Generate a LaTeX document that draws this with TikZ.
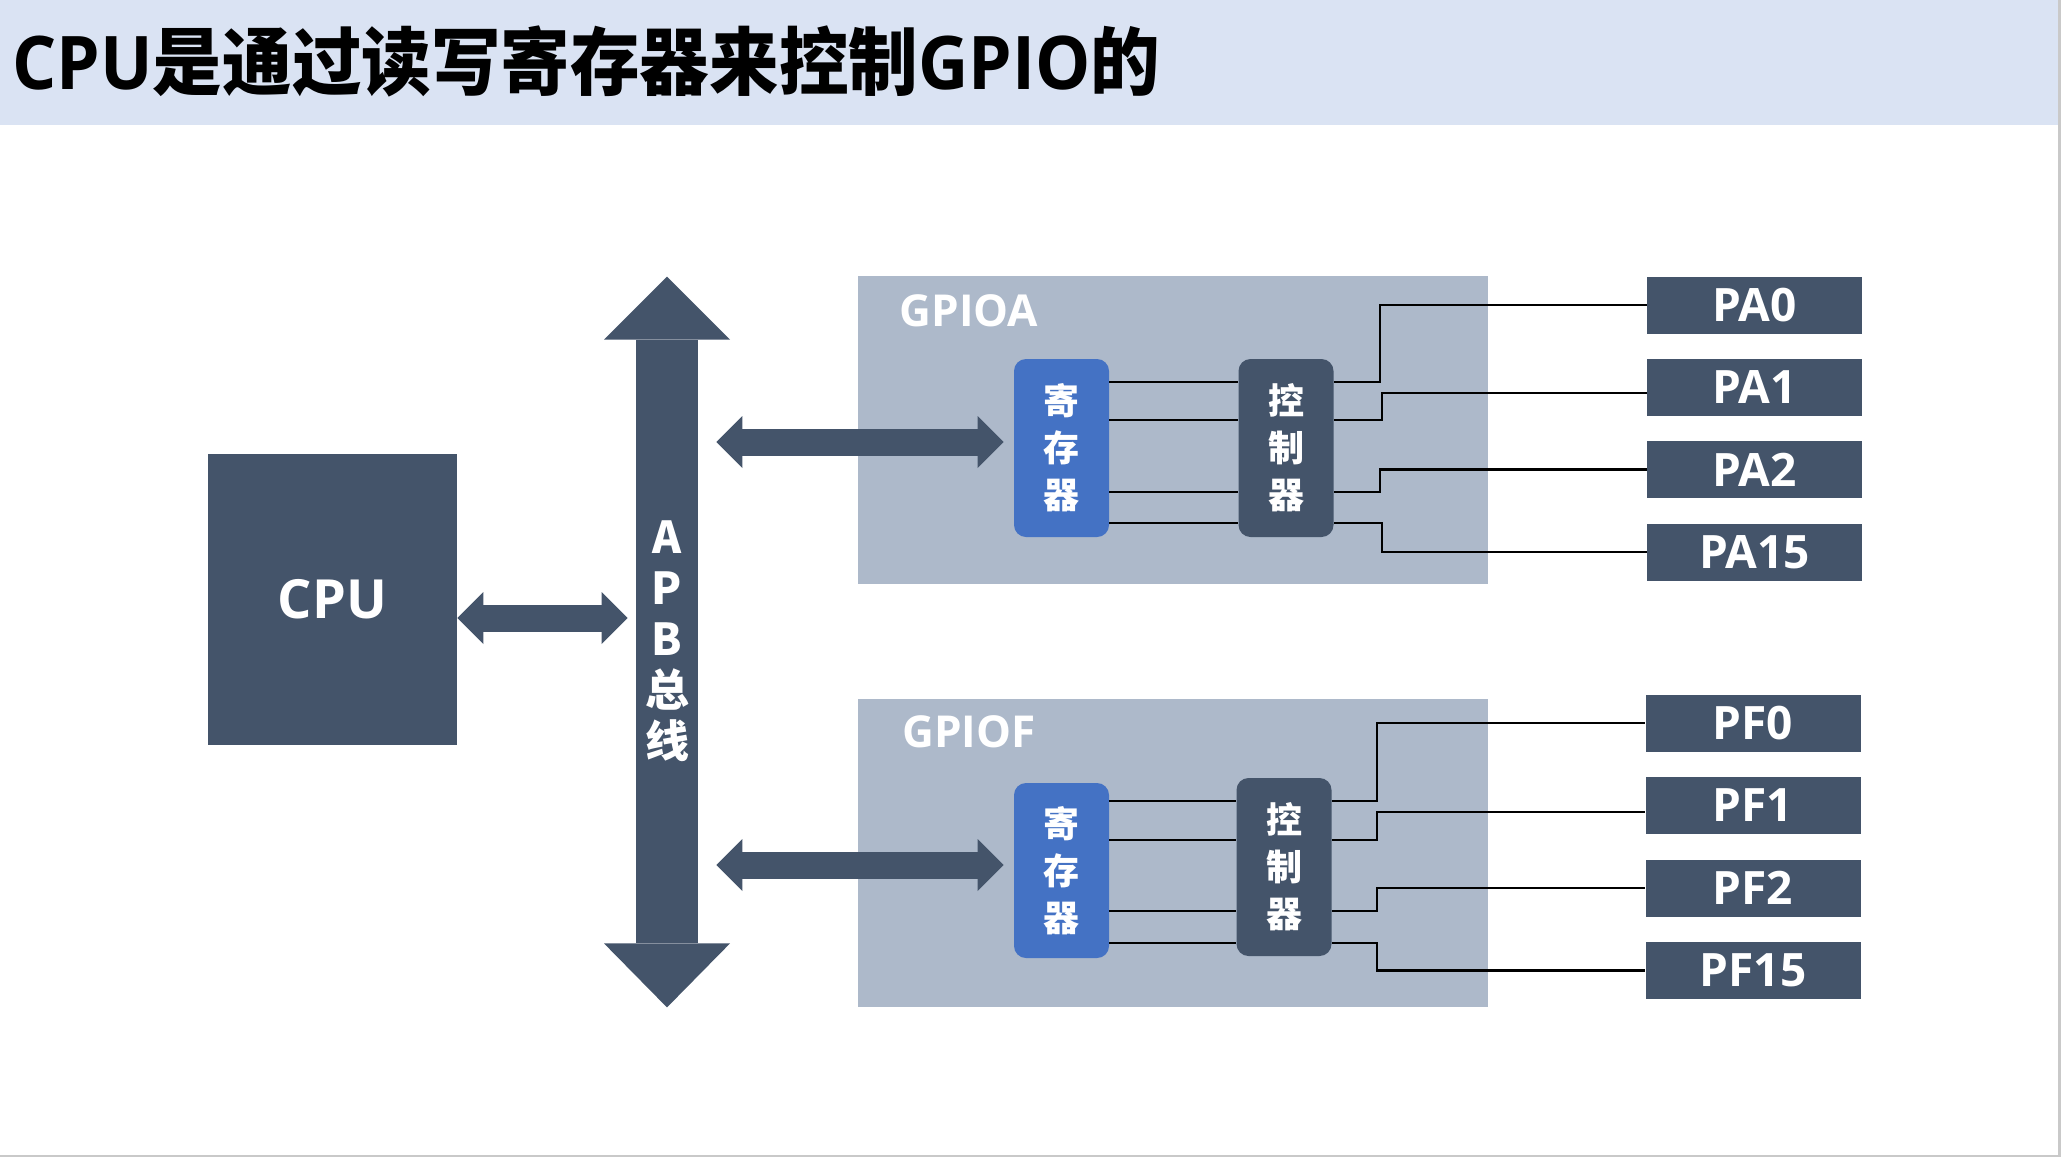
\documentclass[tikz,border=0pt]{standalone}
\usepackage{fontspec}
\setmainfont{Open Sans}
\newfontfamily\cjk{Noto Sans CJK SC}
\newfontfamily\titlelat{Open Sans}[FakeStretch=0.94]
\newfontfamily\titlecjk{Noto Sans CJK SC}[FakeStretch=0.94]
\usetikzlibrary{arrows.meta,calc}
\definecolor{band}{HTML}{DAE3F3}
\definecolor{dark}{HTML}{44546A}
\definecolor{gpio}{HTML}{ADB9CA}
\definecolor{reg}{HTML}{4472C4}
\definecolor{edge}{HTML}{C9C9C9}
\tikzset{
  box/.style={fill=dark, inner sep=0pt, text=white},
  cpubox/.style={box, minimum width=124.5pt, minimum height=145.5pt, font=\bfseries\fontsize{27}{32}\selectfont},
  busbar/.style={box, minimum width=31pt, minimum height=301.5pt, align=center, font=\cjk\bfseries\fontsize{22}{25.5}\selectfont},
  gpiobox/.style={fill=gpio, inner sep=0pt, minimum width=315pt, minimum height=154pt},
  gpiolabel/.style={text=white, font=\bfseries\fontsize{22}{26}\selectfont, inner sep=0pt},
  regbox/.style={fill=reg, rounded corners=6pt, text=white, minimum width=47.5pt, minimum height=89pt, align=center, font=\cjk\bfseries\fontsize{18}{23.5}\selectfont, inner sep=0pt},
  ctrlbox/.style={regbox, fill=dark},
  pinbox/.style={box, minimum width=107.5pt, minimum height=28.5pt, font=\bfseries\fontsize{23}{27}\selectfont},
  wire/.style={draw=black, line width=1.4pt},
  dbl/.style={draw=dark, line width=13.5pt, {Triangle[width=26pt,length=13pt,line width=0pt]}-{Triangle[width=26pt,length=13pt,line width=0pt]}}
}
\begin{document}
\begin{tikzpicture}[x=0.5pt,y=-0.5pt]
\useasboundingbox (0,0) rectangle (2061,1157);
\fill[white] (0,0) rectangle (2061,1157);
% title band
\fill[band] (0,0) rectangle (2058,125);
\fill[edge] (2058,0) rectangle (2061,1157);
\fill[edge] (0,1155) rectangle (2061,1157);
\node[anchor=base west, inner sep=0pt, font=\bfseries\fontsize{37}{44}\selectfont] (title) at (12,89) {{\titlelat CPU}{\titlecjk 是通过读写寄存器来控制}{\titlelat GPIO}{\titlecjk 的}};

% GPIO blocks
\node[gpiobox] (gpioA) at (1173,430) {};
\node[gpiobox] (gpioF) at (1173,852.5) {};
\node[gpiolabel] (labA) at (969,311) {GPIOA};
\node[gpiolabel] (labF) at (969,732) {GPIOF};

% CPU
\node[cpubox] (cpu) at (332.5,599.5) {CPU};

% APB bus
\node[busbar] (bus) at (667,641.5) {A\\P\\B\\总\\线};
\fill[dark] ($(bus.north)+(-63,0)$) -- ($(bus.north)+(63,0)$) -- ($(bus.north)+(0,-63)$) -- cycle;
\fill[dark] ($(bus.south)+(-63,0)$) -- ($(bus.south)+(63,0)$) -- ($(bus.south)+(0,64)$) -- cycle;

% registers and controllers
\node[regbox] (regA) at (1061.5,448) {寄\\存\\器};
\node[ctrlbox] (ctrlA) at (1286,448) {控\\制\\器};
\node[regbox, minimum height=87.5pt] (regF) at (1061.5,870.5) {寄\\存\\器};
\node[ctrlbox] (ctrlF) at (1284,867) {控\\制\\器};

% double arrows
\draw[dbl] (cpu.east |- 0,618) -- ($(bus.west |- 0,618)+(-8,0)$);
\draw[dbl] ($(bus.east |- 0,442)+(18,0)$) -- ($(regA.west |- 0,442)+(-10,0)$);
\draw[dbl] ($(bus.east |- 0,865)+(18,0)$) -- ($(regF.west |- 0,865)+(-10,0)$);

% pins
\node[pinbox] (PA0) at (1754.5,305) {PA0};
\node[pinbox] (PA1) at (1754.5,387) {PA1};
\node[pinbox] (PA2) at (1754.5,469.5) {PA2};
\node[pinbox] (PA15) at (1754.5,552) {PA15};
\node[pinbox] (PF0) at (1753,723) {PF0};
\node[pinbox] (PF1) at (1753,805) {PF1};
\node[pinbox] (PF2) at (1753,888) {PF2};
\node[pinbox] (PF15) at (1753,970.5) {PF15};

% register -> controller lines
\foreach \yy in {382,420,492,523}{\draw[wire] (regA.east |- 0,\yy) -- (ctrlA.west |- 0,\yy);}
\foreach \yy in {801,840,911,943}{\draw[wire] (regF.east |- 0,\yy) -- (ctrlF.west |- 0,\yy);}

% controller -> pins
\draw[wire] (ctrlA.east |- 0,382) -- ++(46,0) |- (PA0.west);
\draw[wire] (ctrlA.east |- 0,420) -- ++(48,0) |- ($(PA1.west)+(0,6)$);
\draw[wire] (ctrlA.east |- 0,492) -- ++(46,0) |- (PA2.west);
\draw[wire] (ctrlA.east |- 0,523) -- ++(48,0) |- (PA15.west);
\draw[wire] (ctrlF.east |- 0,801) -- ++(45,0) |- (PF0.west);
\draw[wire] (ctrlF.east |- 0,840) -- ++(45,0) |- ($(PF1.west)+(0,7)$);
\draw[wire] (ctrlF.east |- 0,911) -- ++(45,0) |- (PF2.west);
\draw[wire] (ctrlF.east |- 0,943) -- ++(45,0) |- (PF15.west);
\end{tikzpicture}
\end{document}
